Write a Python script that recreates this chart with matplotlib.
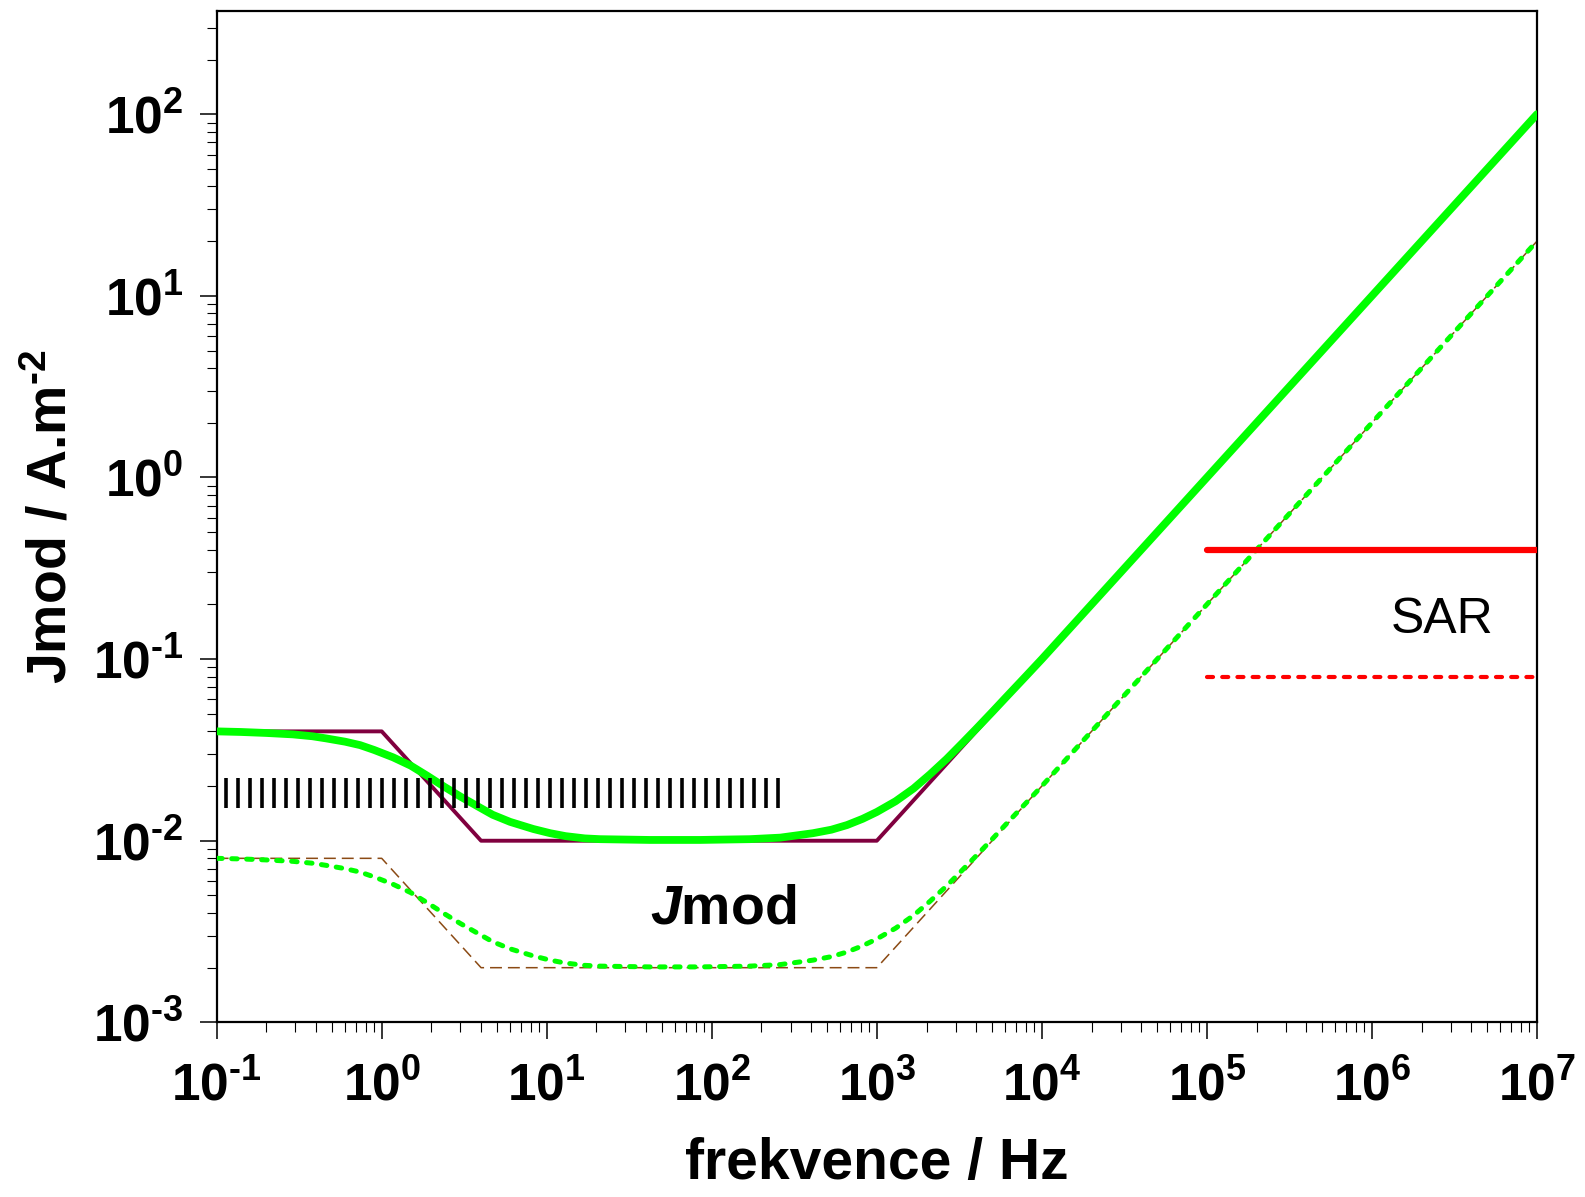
import numpy as np
import matplotlib
matplotlib.use('Agg')
import matplotlib.pyplot as plt
from matplotlib.ticker import LogLocator, NullFormatter

plt.rcParams['font.family'] = ['Liberation Sans', 'DejaVu Sans']
plt.rcParams['mathtext.fontset'] = 'custom'
plt.rcParams['mathtext.rm'] = 'Liberation Sans:bold'
plt.rcParams['mathtext.bf'] = 'Liberation Sans:bold'
plt.rcParams['mathtext.it'] = 'Liberation Sans:italic:bold'
plt.rcParams['mathtext.default'] = 'rm'

# piecewise limits (occupational / general public)
limit_freq = [0.1, 1, 4, 1000, 1e7]
limit_occ = [0.04, 0.04, 0.01, 0.01, 100]
limit_pub = [0.008, 0.008, 0.002, 0.002, 20]

# smooth model curves
model_freq = [0.1, 0.14, 0.2, 0.29, 0.38, 0.46, 0.6, 0.74, 0.9, 1.17, 1.5, 1.9,
              2.4, 3.0, 3.8, 4.7, 6.0, 8.3, 10.5, 13, 17, 21, 42, 85, 170, 260,
              410, 530, 660, 820, 1000, 1300, 1670, 2100, 2650, 3300, 4000, 5000,
              6000, 8000, 1e4, 1e5, 1e6, 1e7]
model_occ = [0.0400, 0.0397, 0.0392, 0.0385, 0.0376, 0.0366, 0.0351, 0.0336,
             0.0316, 0.0288, 0.0259, 0.0227, 0.0198, 0.0175, 0.0155, 0.0139,
             0.0127, 0.0116, 0.0110, 0.0106, 0.0103, 0.0102, 0.0101, 0.0101,
             0.0102, 0.0104, 0.0110, 0.0115, 0.0122, 0.0132, 0.0144, 0.0165,
             0.0194, 0.0232, 0.0282, 0.0345, 0.0413, 0.0511, 0.0610, 0.0805,
             0.100, 1.0, 10.0, 100.0]
model_pub = [0.00800, 0.00794, 0.00784, 0.00770, 0.00752, 0.00732, 0.00702,
             0.00672, 0.00632, 0.00576, 0.00518, 0.00454, 0.00396, 0.00350,
             0.00310, 0.00278, 0.00254, 0.00232, 0.00220, 0.00212, 0.00206,
             0.00204, 0.00202, 0.00202, 0.00204, 0.00208, 0.00220, 0.00230,
             0.00244, 0.00264, 0.00288, 0.00330, 0.00388, 0.00464, 0.00564,
             0.00690, 0.00826, 0.0102, 0.0122, 0.0161, 0.020, 0.20, 2.0, 20.0]

# SAR levels
sar_freq = [1e5, 1e7]
sar_occ = [0.4, 0.4]
sar_pub = [0.08, 0.08]

# hatched band
band_freq = [0.1135, 251]
band_j = [0.0152, 0.0221]
band_lines = 47

xticks = [1e-1, 1e0, 1e1, 1e2, 1e3, 1e4, 1e5, 1e6, 1e7]
yticks = [1e-3, 1e-2, 1e-1, 1e0, 1e1, 1e2]


def pow_label(v):
    e = int(round(np.log10(v)))
    if e < 0:
        return r'$10^{\text{-}%d}$' % -e
    return r'$10^{%d}$' % e


fig = plt.figure(figsize=(15.85, 11.97), dpi=100)
ax = fig.add_axes([0.1367, 0.1459, 0.8330, 0.8449])

ax.plot(limit_freq, limit_pub, color='#8b4a14', lw=1.1, ls=(0, (7.8, 3.9)), zorder=2)
ax.plot(limit_freq, limit_occ, color='#80003f', lw=2.8, zorder=2)
ax.plot(model_freq, model_pub, color='#00ff00', lw=3.6, ls=(0, (1.1, 1.9)),
        dash_capstyle='round', zorder=3)
ax.plot(model_freq, model_occ, color='#00ff00', lw=5.6, solid_capstyle='round',
        solid_joinstyle='round', zorder=3)
ax.plot(sar_freq, sar_occ, color='#ff0000', lw=4.5, solid_capstyle='round', zorder=4)
ax.plot(sar_freq, sar_pub, color='#ff0000', lw=3, ls=(0, (1.45, 2.2)),
        dash_capstyle='round', zorder=4)

band_x = np.geomspace(band_freq[0], band_freq[1], band_lines)
ax.vlines(band_x, band_j[0], band_j[1], color='black', lw=2.6, zorder=5)

ax.text(117, 0.00352, r'$\mathit{J}$mod', fontsize=40, fontweight='bold',
        ha='center', va='baseline')
ax.text(2.65e6, 0.1398, 'SAR', fontsize=36, ha='center', va='baseline')

ax.set_xscale('log')
ax.set_yscale('log')
ax.set_xlim(0.1, 1e7)
ax.set_ylim(1e-3, 370)

ax.set_xticks(xticks)
ax.set_xticklabels([pow_label(v) for v in xticks])
ax.set_yticks(yticks)
ax.set_yticklabels([pow_label(v) for v in yticks])
ax.xaxis.set_minor_locator(LogLocator(base=10, subs=np.arange(2, 10), numticks=20))
ax.yaxis.set_minor_locator(LogLocator(base=10, subs=np.arange(2, 10), numticks=20))
ax.xaxis.set_minor_formatter(NullFormatter())
ax.yaxis.set_minor_formatter(NullFormatter())

ax.tick_params(which='major', direction='out', length=12, width=1.1,
               labelsize=37, top=False, right=False)
ax.tick_params(axis='x', which='major', pad=16)
ax.tick_params(axis='y', which='major', pad=12)
ax.tick_params(which='minor', direction='out', length=7, width=0.8,
               top=False, right=False)
for s in ax.spines.values():
    s.set_linewidth(1.6)

ax.set_xlabel('frekvence / Hz', fontsize=41, fontweight='bold', va='center')
ax.xaxis.set_label_coords(0.5, -(1164 - 1022.4) / 1011.4)
ax.set_ylabel(r'Jmod / A.m$^{\text{-}2}$', fontsize=40, fontweight='bold', va='center')
ax.yaxis.set_label_coords(-(216.7 - 52) / 1320.3, 0.5)

fig.savefig('out.png', dpi=100)
